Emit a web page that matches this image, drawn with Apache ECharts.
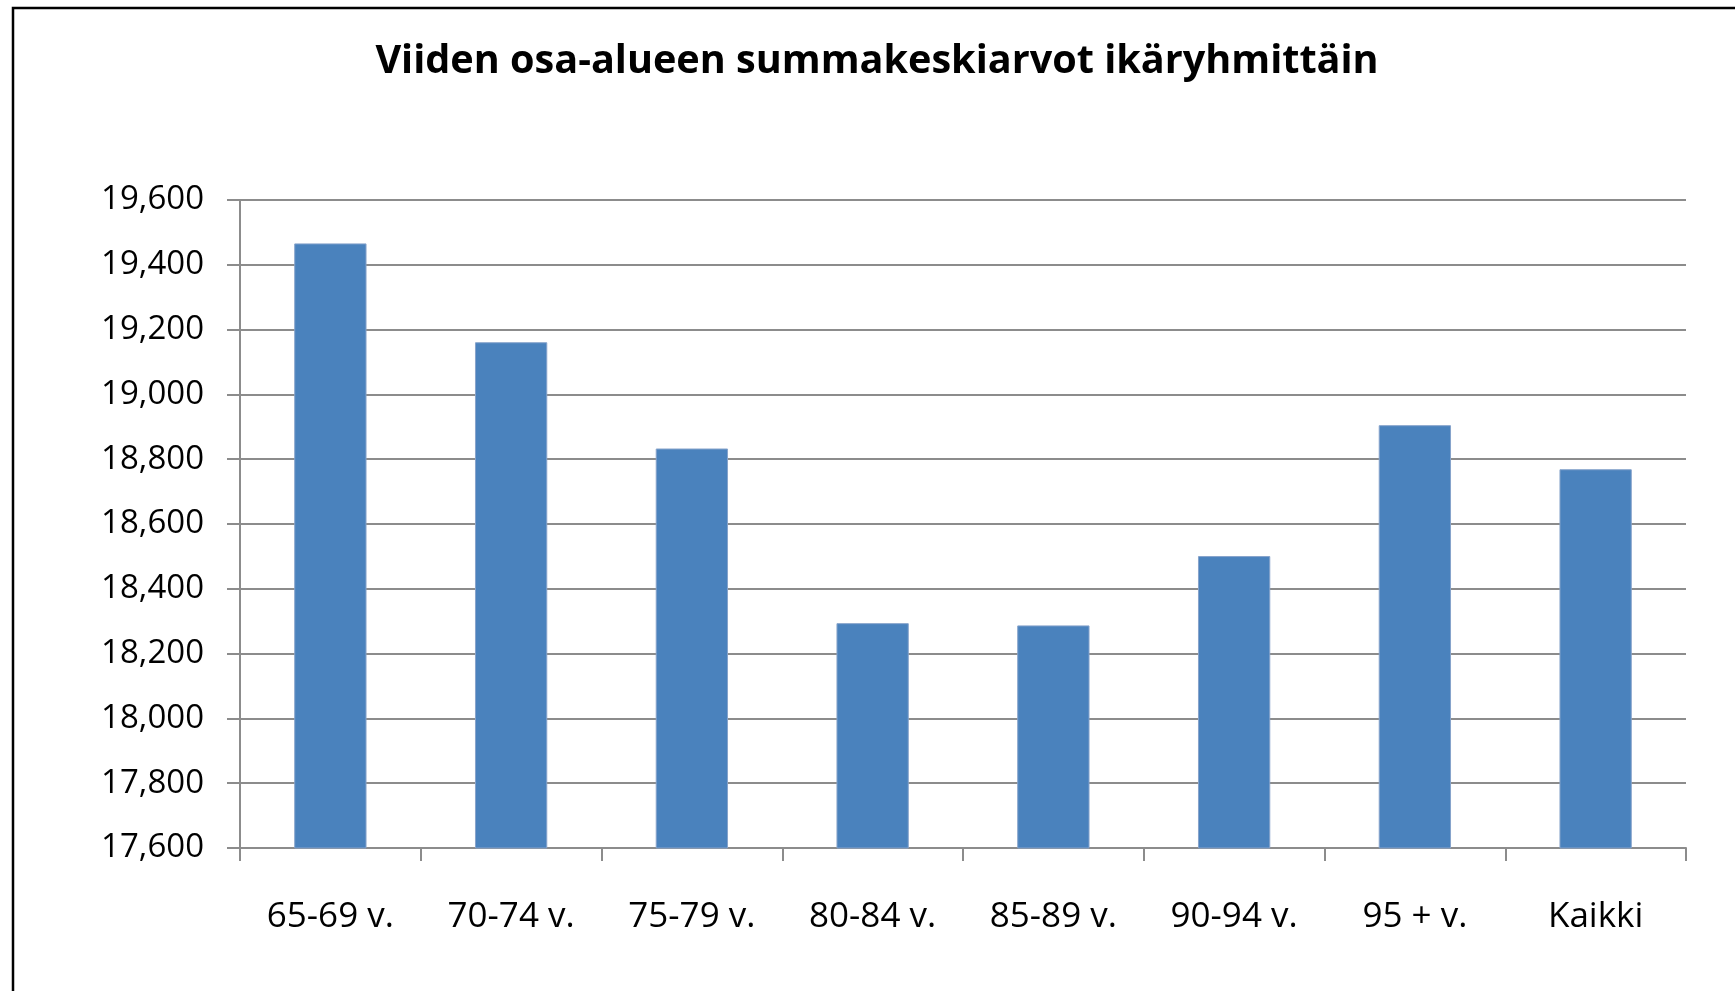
<!DOCTYPE html>
<html>
<head>
<meta charset="utf-8">
<script src="https://cdn.jsdelivr.net/npm/echarts@6/dist/echarts.min.js"></script>
<style>
html,body{margin:0;padding:0;background:#fff;}
#chart{width:1735px;height:991px;}
</style>
</head>
<body>
<div id="chart"></div>
<script>
const titleText = 'Viiden osa-alueen summakeskiarvot ikäryhmittäin';
const categories = ['65-69 v.', '70-74 v.', '75-79 v.', '80-84 v.', '85-89 v.', '90-94 v.', '95 + v.', 'Kaikki'];
const values = [19466, 19161, 18833, 18294, 18287, 18501, 18905, 18769];
const yMin = 17600;
const yMax = 19600;
const yStep = 200;

const chart = echarts.init(document.getElementById('chart'), null, {renderer: 'canvas'});
chart.setOption({
  backgroundColor: '#ffffff',
  animation: false,
  graphic: [{
    type: 'rect',
    shape: {x: 13, y: 8, width: 1800, height: 1100},
    style: {fill: 'none', stroke: '#000', lineWidth: 2.5},
    silent: true,
    z: 100
  }, {
    type: 'text',
    x: 877,
    y: 62,
    scaleX: 0.99,
    style: {
      text: titleText,
      x: 0, y: 0,
      textAlign: 'center',
      textVerticalAlign: 'middle',
      fontFamily: 'Open Sans',
      fontWeight: 'bold',
      fontSize: 40,
      fill: '#000'
    },
    silent: true,
    z: 100
  }],
  grid: {left: 240, right: 49, top: 200, bottom: 143, containLabel: false},
  xAxis: {
    type: 'category',
    data: categories,
    axisLine: {lineStyle: {color: '#8c8c8c', width: 2}},
    axisTick: {show: true, length: 13, alignWithLabel: false, lineStyle: {color: '#8c8c8c', width: 2}},
    axisLabel: {fontFamily: 'Open Sans', fontSize: 35, color: '#000', margin: 52}
  },
  yAxis: {
    type: 'value',
    min: yMin,
    max: yMax,
    interval: yStep,
    axisLine: {show: true, lineStyle: {color: '#8c8c8c', width: 2}},
    axisTick: {show: true, length: 13, inside: false, lineStyle: {color: '#8c8c8c', width: 2}},
    splitLine: {show: true, lineStyle: {color: '#8c8c8c', width: 2}},
    axisLabel: {
      fontFamily: 'Open Sans', fontSize: 33, color: '#000', margin: 36,
      formatter: v => v.toLocaleString('en-US')
    }
  },
  series: [{
    type: 'bar',
    data: values,
    barWidth: '40%',
    itemStyle: {color: '#4a82bd', borderColor: '#86a3cb', borderWidth: 1}
  }]
});
</script>
</body>
</html>
